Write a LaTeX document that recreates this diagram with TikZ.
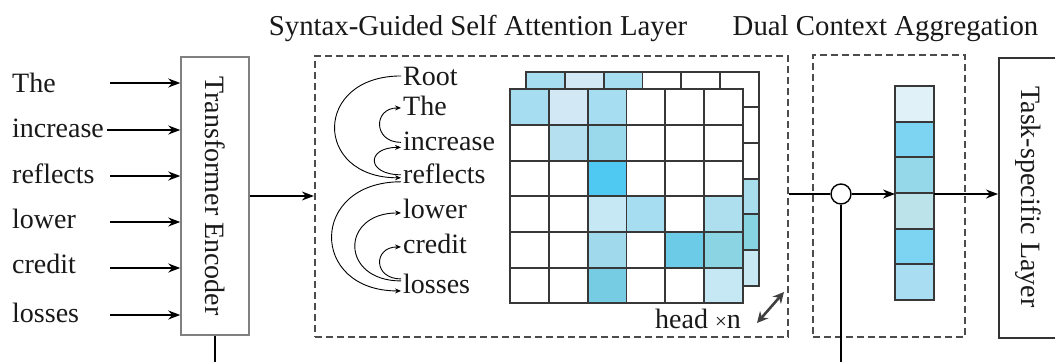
\documentclass[tikz,border=0pt]{standalone}
\usepackage{fontspec}
\setmainfont{Liberation Serif}
\usetikzlibrary{arrows.meta,calc}
\definecolor{ca}{HTML}{A6DDF0}
\definecolor{cb}{HTML}{D2E8F5}
\definecolor{cc}{HTML}{B5E0F0}
\definecolor{cd}{HTML}{9AD8EB}
\definecolor{ce}{HTML}{4FC9F2}
\definecolor{cf}{HTML}{C5E8F4}
\definecolor{cg}{HTML}{AEDFEE}
\definecolor{ch}{HTML}{A0D8EC}
\definecolor{ci}{HTML}{6CCCE8}
\definecolor{cj}{HTML}{8BD4E4}
\definecolor{ck}{HTML}{76CDE3}
\definecolor{bra}{HTML}{A8DDEE}
\definecolor{brb}{HTML}{86D3E2}
\definecolor{brc}{HTML}{C8E8F4}
\definecolor{va}{HTML}{E0F2F8}
\definecolor{vb}{HTML}{7DD3F2}
\definecolor{vc}{HTML}{94D8EA}
\definecolor{vd}{HTML}{BDE3EA}
\definecolor{ve}{HTML}{A8DDF2}
\begin{document}
\begin{tikzpicture}[x=1pt,y=-1pt,
  txt/.style={font=\fontsize{28}{30}\selectfont, inner sep=0pt, text=black!90},
  word/.style={txt, anchor=base west},
  synw/.style={txt, anchor=base west, inner xsep=2pt},
  ttl/.style={font=\fontsize{28.8}{30}\selectfont, inner sep=0pt, anchor=base, text=black!90},
  arr/.style={line width=1.4pt, -{Stealth[length=12pt,width=9pt]}},
  carr/.style={line width=0.9pt, -{Stealth[length=6pt,width=5pt]}},
  dbox/.style={draw=black!70, line width=2.2pt, dash pattern=on 7pt off 4pt, inner sep=0pt},
  cellline/.style={draw=black!78, line width=1.8pt},
]
\useasboundingbox (0,0) rectangle (1055,362);
\clip (0,0) rectangle (1055,362);

% titles
\node[ttl] (t1) at (478,35) {Syntax-Guided Self Attention Layer};
\node[ttl] (t2) at (885.5,35) {Dual Context Aggregation};

% transformer encoder
\node[draw=black!50, line width=1.5pt, minimum width=68, minimum height=278, inner sep=0pt] (enc) at (215,196) {};
\node[txt, rotate=-90] (enclab) at (enc.center) {Transformer Encoder};

% input words
\node[word] (w1) at (12,92) {The};
\node[word] (w2) at (12,137) {increase};
\node[word] (w3) at (12,183) {reflects};
\node[word] (w4) at (12,228) {lower};
\node[word] (w5) at (12,273) {credit};
\node[word] (w6) at (12,322) {losses};
\coordinate (a1) at (110,83);
\coordinate (a2) at (107,130);
\coordinate (a3) at (110,176);
\coordinate (a4) at (110,222);
\coordinate (a5) at (110,268);
\coordinate (a6) at (110,315);
\foreach \i in {1,...,6} \draw[arr] (a\i) -- (a\i -| enc.west);

% bottom lines
\coordinate (eb) at (215,362);
\draw[line width=1.4pt] (enc.south) -- (eb);

% dashed boxes
\node[dbox, minimum width=473, minimum height=281] (sga) at (551.5,196.5) {};
\node[dbox, minimum width=152, minimum height=282] (dca) at (889,196) {};

\draw[arr] (enc.east) -- (enc.east -| sga.west);

% syntax words
\node[synw] (sroot) at (401,85) {Root};
\node[synw] (sthe) at (401,115) {The};
\node[synw] (sinc) at (401,150) {increase};
\node[synw] (sref) at (401,183) {reflects};
\node[synw] (slow) at (401,218) {lower};
\node[synw] (scre) at (401,253) {credit};
\node[synw] (slos) at (401,293) {losses};

\draw[carr] (sroot.west) .. controls +(-88,0) and +(-88,0) .. ($(sref.west)+(0,4.5)$);
\draw[carr] ($(sinc.west)+(0,1.5)$) .. controls +(-28,0) and +(-28,0) .. ($(sthe.west)+(0,2.5)$);
\draw[carr] ($(sref.west)+(0,1.5)$) .. controls +(-35,0) and +(-35,0) .. ($(sinc.west)+(0,6.5)$);
\draw[carr] ($(sref.west)+(0,8.5)$) .. controls +(-92,0) and +(-92,0) .. ($(slos.west)+(0,7.5)$);
\draw[carr] ($(slos.west)+(0,-2.5)$) .. controls +(-61,0) and +(-61,0) .. ($(slow.west)+(0,4.5)$);
\draw[carr] ($(slos.west)+(0,-4.5)$) .. controls +(-28,0) and +(-28,0) .. ($(scre.west)+(0,3.5)$);

% back matrix
\foreach \c in {0,...,5} \foreach \r in {0,...,5}
  \draw[cellline, fill=white] ({526+\c*38.83},{71.6+\r*35.67}) rectangle ++(38.83,35.67);
\foreach \c/\r/\col in {0/0/ca,1/0/cb,2/0/ca,5/3/bra,5/4/brb,5/5/brc}
  \draw[cellline, fill=\col] ({526+\c*38.83},{71.6+\r*35.67}) rectangle ++(38.83,35.67);

% front matrix
\foreach \c in {0,...,5} \foreach \r in {0,...,5}
  \draw[cellline, fill=white] ({510+\c*38.83},{89.3+\r*35.67}) rectangle ++(38.83,35.67);
\foreach \c/\r/\col in {0/0/ca,1/0/cb,2/0/ca,1/1/cc,2/1/cd,2/2/ce,2/3/cf,3/3/ca,5/3/cg,2/4/ch,4/4/ci,5/4/cj,2/5/ck,5/5/cf}
  \draw[cellline, fill=\col] ({510+\c*38.83},{89.3+\r*35.67}) rectangle ++(38.83,35.67);

% head x n
\node[txt, anchor=base west] (head) at (655,328) {head {\fontsize{21}{21}\selectfont ×}n};
\coordinate (ha) at (757,323);
\coordinate (hb) at (784,292);
\draw[line width=2.6pt, draw=black!75, {Stealth[length=11pt,width=11pt]}-{Stealth[length=11pt,width=11pt]}] (ha) -- (hb);

% aggregation
\node[circle, draw, line width=1.4pt, minimum size=20, inner sep=0pt, fill=white] (circ) at (841,194) {};
\foreach \r/\col in {0/va,1/vb,2/vc,3/vd,4/vb,5/ve}
  \draw[cellline, fill=\col] (895,{86+\r*35.67}) rectangle ++(39,35.67);
\node[inner sep=0pt, minimum width=39, minimum height=214, anchor=north west] (vec) at (895,86) {};

\draw[line width=1.4pt] (sga.east |- circ.west) -- (circ.west);
\draw[arr] (circ.east) -- (circ.east -| vec.west);
\coordinate (cb) at (841,362);
\draw[line width=1.4pt] (circ.south) -- (cb);

% task-specific layer
\node[draw=black!80, line width=1.5pt, minimum width=80, minimum height=280, inner sep=0pt, anchor=north west] (task) at (998,57) {};
\node[txt, rotate=-90] (tasklab) at (1028,197) {Task-specific Layer};
\draw[arr] (vec.east |- circ.east) -- (circ.east -| task.west);
\end{tikzpicture}
\end{document}
